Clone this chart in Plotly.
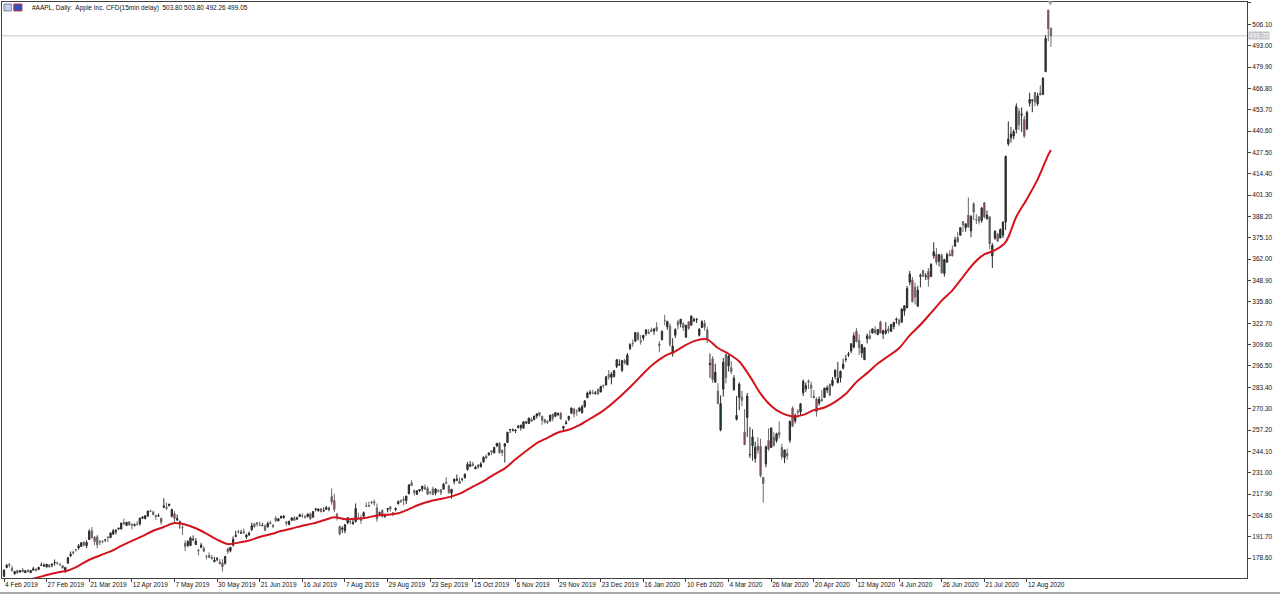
import pandas as pd
import plotly.graph_objects as go

# ---- daily OHLC (open, high, low, close), by month ----
ohlc_2019_02 = [(167.41,171.66,167.28,171.25),(172.86,175.08,172.35,174.18),(174.65,175.57,172.85,174.24),(172.40,173.94,170.34,170.94),(168.99,170.66,168.42,170.41),(171.05,171.21,169.25,169.43),(170.10,171.00,169.70,170.89),(171.39,172.48,169.92,170.18),(169.71,171.26,169.38,170.80),(171.25,171.70,169.75,170.42),(169.71,171.44,169.49,170.93),(171.19,173.32,170.99,172.03),(171.80,172.37,170.30,171.06),(171.58,173.00,171.38,172.97),(174.16,175.87,173.95,174.23),(173.71,175.30,173.17,174.33),(173.21,175.00,172.73,174.87),(174.32,174.91,172.92,173.15)]
ohlc_2019_03 = [(174.28,175.15,172.89,174.97),(175.69,177.75,173.97,175.85),(175.94,176.00,174.54,175.53),(174.67,175.49,173.94,174.52),(173.87,174.44,172.02,172.50),(170.32,173.07,169.50,172.91),(175.49,179.12,175.35,178.90),(180.00,182.67,179.37,180.91),(182.25,183.30,180.92,181.71),(183.90,184.10,182.56,183.73),(184.85,187.33,183.74,186.12),(185.80,188.39,185.79,188.02),(188.35,188.99,185.92,186.53),(186.23,189.49,184.73,188.16),(190.02,196.33,189.81,195.09),(195.34,197.69,190.78,191.05),(191.51,191.98,186.60,188.74),(191.66,192.88,184.58,186.79),(188.75,189.76,186.55,188.47),(188.95,189.56,187.53,188.72),(189.83,190.08,188.54,189.95)]
ohlc_2019_04 = [(191.64,191.68,188.38,191.24),(191.09,194.46,191.05,194.02),(193.25,196.50,193.15,195.35),(194.79,196.37,193.14,195.69),(196.45,197.10,195.93,197.00),(196.42,200.23,196.34,200.10),(200.32,202.85,199.23,199.50),(198.68,200.74,198.18,200.62),(200.85,201.00,198.44,198.95),(199.20,200.14,196.21,198.87),(198.58,199.85,198.01,199.23),(199.46,201.37,198.56,199.25),(199.54,203.38,198.61,203.13),(203.12,204.15,202.52,203.86),(202.83,204.94,202.34,204.53),(204.43,207.75,203.90,207.48),(207.36,208.48,207.05,207.16),(206.83,207.76,205.12,205.28),(204.90,205.00,202.12,204.30),(204.40,205.97,203.86,204.61),(203.06,203.40,199.11,200.67)]
ohlc_2019_05 = [(209.88,215.31,209.23,210.52),(209.84,212.65,208.13,209.15),(210.89,211.84,210.23,211.75),(204.29,208.84,203.50,208.48),(205.88,207.42,200.83,202.86),(201.90,205.34,201.75,202.90),(200.40,201.68,196.66,200.72),(197.42,198.85,192.77,197.18),(187.71,189.48,182.85,185.72),(186.41,189.70,185.41,188.66),(186.27,191.75,186.02,190.92),(189.91,192.47,188.84,190.08),(186.93,190.90,186.76,189.00),(183.52,184.35,180.28,183.09),(185.22,188.00,184.70,186.60),(184.66,185.71,182.55,182.78),(179.80,180.54,177.81,179.66),(180.20,182.14,178.62,178.97),(178.92,180.59,177.91,178.23),(176.42,179.35,176.00,177.38),(177.95,179.23,176.67,178.30),(176.23,177.99,174.99,175.07)]
ohlc_2019_06 = [(175.60,177.92,170.27,173.30),(175.44,179.83,174.52,179.64),(184.28,184.99,181.14,182.54),(183.08,185.47,182.15,185.22),(186.51,191.92,185.77,190.15),(191.81,195.37,191.62,192.58),(194.86,196.00,193.60,194.81),(193.95,195.97,193.39,194.19),(194.70,196.79,193.60,194.15),(191.55,193.59,190.30,192.74),(192.90,194.96,192.17,193.89),(196.05,200.29,195.21,198.45),(199.68,199.88,197.31,197.87),(200.37,200.61,198.03,199.46),(198.80,200.85,198.15,198.78),(198.54,200.16,198.17,198.58),(198.43,199.26,195.29,195.57),(197.77,200.99,197.35,199.80),(200.29,201.57,199.57,199.74),(198.68,199.49,197.05,197.92)]
ohlc_2019_07 = [(203.17,204.49,200.65,201.55),(201.41,203.13,201.36,202.73),(203.28,204.44,202.69,204.41),(203.35,205.08,202.90,204.23),(200.81,201.40,198.41,200.02),(199.20,201.51,198.81,201.24),(201.85,203.73,201.56,203.23),(203.31,204.39,201.71,201.75),(202.45,204.00,202.20,203.30),(204.09,205.87,204.00,205.21),(204.59,206.11,203.50,204.50),(204.05,205.09,203.27,203.35),(204.00,205.88,203.70,205.66),(205.79,206.50,202.36,202.59),(203.65,207.23,203.61,207.22),(208.46,208.91,207.29,208.84),(207.67,209.15,207.17,208.67),(208.89,209.24,206.73,207.02),(207.48,209.73,207.14,207.74),(208.46,210.64,208.44,209.68),(208.76,210.16,207.31,208.78),(216.42,221.37,211.30,213.04)]
ohlc_2019_08 = [(213.90,218.03,206.74,208.43),(205.53,206.43,201.63,204.02),(197.99,198.65,192.58,193.34),(196.31,198.07,194.04,197.00),(195.41,199.56,193.82,199.04),(200.20,203.53,199.39,203.43),(201.30,202.76,199.29,200.99),(199.62,202.05,199.15,200.48),(201.02,212.14,200.48,208.97),(203.16,206.44,202.59,202.75),(203.46,205.14,199.67,201.74),(204.28,207.16,203.84,206.50),(210.62,212.73,210.03,210.35),(210.88,213.35,210.32,210.36),(212.99,213.65,211.60,212.64),(213.19,214.44,210.75,212.46),(209.43,212.05,201.00,202.64),(205.86,207.19,205.06,206.49),(207.86,208.55,203.53,204.16),(204.10,205.72,203.32,205.53),(208.50,209.32,206.66,209.01),(210.16,210.45,207.20,208.74)]
ohlc_2019_09 = [(206.43,206.98,204.22,205.70),(208.39,209.48,207.32,209.19),(212.00,213.97,211.51,213.28),(214.05,214.42,212.51,213.26),(214.84,216.44,211.07,214.17),(213.86,216.78,211.71,216.70),(218.07,223.71,217.73,223.59),(224.80,226.42,222.86,223.09),(220.00,220.79,217.02,218.75),(217.73,220.13,217.56,219.90),(219.96,220.82,219.12,220.70),(221.06,222.85,219.44,222.77),(222.01,223.76,220.37,220.96),(221.38,222.56,217.47,217.73),(218.95,219.84,217.65,218.72),(221.03,222.49,217.19,217.68),(218.55,221.50,217.14,221.03),(220.00,220.94,218.83,219.89),(220.54,220.96,217.28,218.82),(220.90,224.58,220.79,223.97)]
ohlc_2019_10 = [(225.07,228.22,224.20,224.59),(223.06,223.58,217.93,218.96),(218.43,220.96,215.13,220.82),(225.64,227.49,223.89,227.01),(226.27,229.93,225.84,227.06),(225.82,228.06,224.33,224.40),(227.03,227.79,225.64,227.03),(227.93,230.44,227.30,230.09),(232.95,237.64,232.31,236.21),(234.90,238.13,234.67,235.87),(236.39,237.65,234.88,235.32),(233.37,235.24,233.20,234.37),(235.09,236.15,233.52,235.28),(234.59,237.58,234.29,236.41),(237.52,240.99,237.32,240.51),(241.16,242.20,239.62,239.96),(242.10,243.24,241.22,243.18),(244.51,244.80,241.81,243.58),(243.16,246.73,242.88,246.58),(247.42,249.25,246.72,249.05),(248.97,249.75,242.57,243.29),(244.76,245.30,241.21,243.26),(247.24,249.17,237.26,248.76)]
ohlc_2019_11 = [(249.54,255.93,249.16,255.82),(257.33,257.85,255.38,257.50),(257.05,258.19,256.32,257.13),(256.77,257.49,255.37,257.24),(258.74,260.35,258.11,259.43),(258.69,260.44,256.85,260.14),(258.30,262.47,258.28,262.20),(261.55,262.79,260.92,261.96),(261.13,264.78,261.07,264.47),(263.75,264.88,262.10,262.64),(263.68,265.78,263.01,265.76),(265.80,267.43,264.23,267.10),(267.90,268.00,265.39,266.29),(265.54,266.08,260.40,263.19),(263.69,264.01,261.18,262.01),(262.59,263.18,260.84,261.78),(262.71,266.44,262.52,266.37),(266.94,267.16,262.50,264.29),(265.58,267.98,265.31,267.84),(266.60,268.00,265.90,267.25)]
ohlc_2019_12 = [(267.27,268.25,263.45,264.16),(258.31,259.53,256.29,259.45),(261.07,263.31,260.68,261.74),(263.79,265.89,262.73,265.58),(267.48,271.00,267.30,270.71),(270.00,270.80,264.91,266.92),(268.60,270.07,265.86,268.48),(268.81,271.10,268.50,270.77),(267.78,272.56,267.32,271.46),(271.46,275.30,270.93,275.15),(277.00,280.79,276.98,279.86),(279.57,281.77,278.80,280.41),(279.80,281.90,279.12,279.74),(279.50,281.18,278.95,280.02),(282.23,282.65,278.56,279.44),(280.53,284.25,280.37,284.00),(284.69,284.89,282.92,284.27),(284.82,289.98,284.70,289.91),(291.12,293.97,288.12,289.80),(289.46,292.69,285.22,291.52),(289.93,293.68,289.52,293.65)]
ohlc_2020_01 = [(296.24,300.60,295.19,300.35),(297.15,300.58,296.50,297.43),(293.79,299.96,292.75,299.80),(299.84,300.90,297.48,298.39),(297.16,304.44,297.16,303.19),(307.24,310.43,306.20,309.63),(310.60,312.67,308.25,310.33),(311.64,317.07,311.15,316.96),(316.70,317.57,312.17,312.68),(311.85,315.50,309.55,311.34),(313.59,315.70,312.09,315.24),(316.27,318.74,315.00,318.73),(317.19,319.02,316.00,316.57),(318.58,319.99,317.31,317.70),(317.92,319.56,315.65,319.23),(320.25,323.33,317.52,318.31),(310.06,311.77,304.88,308.95),(312.60,318.40,312.19,317.69),(324.45,327.85,321.38,324.34),(320.54,324.09,318.75,323.87),(320.93,322.68,308.29,309.51)]
ohlc_2020_02 = [(304.30,313.49,302.22,308.66),(315.31,319.64,313.63,318.85),(323.52,324.76,318.95,321.45),(322.57,325.22,320.26,325.21),(322.37,323.40,318.00,320.03),(314.18,321.55,313.85,321.55),(323.60,323.90,318.71,319.61),(321.47,327.22,321.47,327.20),(324.19,326.22,323.35,324.87),(324.74,325.98,322.85,324.95),(315.36,319.75,314.61,319.00),(320.00,324.57,320.00,323.62),(322.63,324.65,318.21,320.30),(318.62,320.45,310.50,313.05),(297.26,304.18,289.23,298.18),(300.95,302.53,286.13,288.08),(286.53,297.88,286.50,292.65),(281.10,286.00,272.96,273.52),(257.26,278.41,256.37,273.36)]
ohlc_2020_03 = [(282.28,301.44,277.72,298.81),(303.67,304.00,285.80,289.32),(296.44,303.40,293.13,302.74),(295.52,299.55,291.41,292.92),(282.00,290.82,281.23,289.03),(263.75,278.09,263.00,266.17),(277.14,286.44,269.37,285.34),(277.39,281.22,271.86,275.43),(255.94,270.00,248.00,248.23),(264.89,279.92,252.95,277.97),(241.95,259.08,240.00,242.21),(247.51,257.61,238.40,252.86),(239.77,250.00,237.12,246.67),(247.39,252.84,242.61,244.78),(247.18,251.83,228.00,229.24),(228.08,228.50,212.61,224.37),(236.36,247.69,234.30,246.88),(250.75,258.25,244.30,245.52),(246.52,258.68,246.36,258.44),(252.75,255.87,247.05,247.74),(250.74,255.52,249.40,254.81),(255.60,262.49,252.00,254.29)]
ohlc_2020_04 = [(246.50,248.72,239.13,240.91),(240.34,245.15,236.90,244.93),(242.80,245.70,238.97,241.41),(250.90,263.11,249.38,262.47),(270.80,271.70,259.00,259.43),(262.74,267.37,261.23,266.07),(268.70,270.07,264.70,267.99),(268.31,273.70,265.83,273.25),(280.00,288.25,278.05,287.05),(282.40,286.33,280.63,284.43),(287.38,288.20,282.35,286.69),(284.69,286.95,276.86,282.80),(277.95,281.68,276.85,276.93),(276.28,277.25,265.43,268.37),(273.61,277.90,272.20,276.10),(275.87,281.75,274.87,275.03),(277.20,283.01,277.00,282.97),(281.80,284.54,279.95,283.17),(285.08,285.83,278.20,278.58),(284.73,289.67,283.89,287.73),(289.96,294.53,288.35,293.80)]
ohlc_2020_05 = [(286.25,299.00,285.85,289.07),(289.17,293.69,286.32,293.16),(295.06,301.00,294.46,297.56),(300.46,303.24,298.87,300.63),(303.22,305.17,301.97,303.74),(305.64,310.35,304.29,310.13),(308.10,317.05,307.24,315.01),(317.83,319.69,310.91,311.41),(312.15,315.95,303.21,307.65),(304.51,309.79,301.53,309.54),(300.35,307.90,300.21,307.71),(313.17,316.50,310.32,314.96),(315.03,318.52,313.01,313.14),(316.68,319.52,316.52,319.23),(318.66,320.89,315.87,316.85),(315.77,319.23,315.35,318.89),(323.50,324.24,316.50,316.73),(316.14,318.71,313.09,318.11),(316.77,323.44,315.63,318.25),(319.25,321.15,316.47,317.94)]
ohlc_2020_06 = [(317.75,322.35,317.21,321.85),(320.75,323.44,318.93,323.34),(324.66,326.20,322.30,325.12),(324.39,325.62,320.78,322.32),(323.35,331.75,323.23,331.50),(330.25,333.60,327.32,333.46),(332.14,345.61,332.58,343.99),(347.90,354.77,346.09,352.84),(349.31,351.06,335.48,335.90),(344.72,347.80,334.22,338.80),(333.25,345.68,332.58,342.99),(351.46,353.20,344.72,352.08),(355.15,355.40,351.09,351.59),(351.41,353.45,349.22,351.73),(354.64,356.56,345.15,349.72),(351.34,359.46,351.15,358.87),(364.00,372.38,362.27,366.53),(365.00,368.79,358.52,360.06),(360.70,365.00,357.57,364.84),(364.41,365.32,353.02,353.63),(353.25,362.17,351.28,361.78),(360.08,365.98,360.00,364.80)]
ohlc_2020_07 = [(365.12,367.36,363.91,364.11),(367.85,370.47,363.64,364.11),(370.00,375.78,369.87,373.85),(375.41,378.62,372.23,372.69),(376.72,381.50,376.36,381.37),(385.05,385.27,378.69,383.01),(381.34,383.92,378.82,383.68),(389.06,399.82,381.03,381.91),(379.36,389.02,375.51,388.23),(395.96,396.99,385.96,390.90),(386.25,389.62,383.62,386.09),(387.95,388.59,383.36,385.31),(385.67,394.00,384.25,393.43),(396.69,397.00,386.97,388.00),(386.77,391.90,386.41,389.09),(387.99,388.31,368.04,371.38),(363.95,371.88,356.58,370.46),(374.84,379.62,373.92,379.24),(377.47,378.20,372.99,373.01),(375.00,380.92,374.85,380.16),(376.75,385.19,375.07,384.76),(384.80,425.66,380.00,425.04)]
ohlc_2020_08 = [(432.80,446.55,431.57,435.75),(436.53,443.16,433.55,438.66),(437.51,441.57,435.59,440.25),(441.62,457.65,439.19,455.61),(452.82,454.70,441.17,444.45),(450.40,455.10,440.00,450.91),(447.88,449.93,436.43,437.50),(441.99,453.10,441.19,452.04),(457.72,464.17,455.71,460.04),(459.32,460.00,452.18,459.63),(464.25,464.35,455.85,458.43),(457.41,464.00,456.03,462.25),(463.93,468.65,462.44,462.83),(463.00,473.57,462.93,473.10),(477.05,499.47,477.00,497.48),(514.79,515.14,495.75,503.43),(503.80,503.80,492.26,499.05)]

# ---- moving average (red line), read every 4th bar plus the last bar ----
ma_values = [160.6,163.4,165.0,166.4,168.2,169.8,171.0,173.9,177.6,180.2,182.7,
             186.1,189.2,192.1,195.4,197.7,200.1,199.2,196.9,193.6,190.0,187.2,
             188.1,189.4,191.6,193.2,195.2,196.8,198.5,199.9,201.8,203.7,202.5,
             202.7,203.4,204.8,205.2,206.1,208.7,211.5,213.5,214.9,216.5,218.8,
             222.5,225.8,230.0,233.7,239.2,244.3,249.2,252.4,255.7,257.4,260.2,
             264.1,268.0,273.0,278.8,285.1,291.9,298.0,302.6,305.5,309.4,312.2,
             312.8,307.5,304.0,299.2,290.1,279.5,272.0,267.5,265.5,266.5,269.4,
             271.0,274.5,279.4,286.7,292.1,298.0,302.6,307.4,315.3,321.8,329.1,
             336.6,342.9,351.2,359.4,365.0,367.5,372.5,388.0,399.0,411.0,426.0,
             429.0]

market_holidays = ["2019-02-18","2019-04-19","2019-05-27","2019-07-04","2019-09-02","2019-11-28",
                   "2019-12-25","2020-01-01","2020-01-20","2020-02-17","2020-04-10","2020-05-25","2020-07-03"]
y_tick_values = [178.60,191.70,204.80,217.90,231.00,244.10,257.20,270.30,283.40,296.50,309.60,322.70,
                 335.80,348.90,362.00,375.10,388.20,401.30,414.40,427.50,440.60,453.70,466.80,479.90,
                 493.00,506.10,519.20]
last_price = 499.05
title_text = "#AAPL, Daily:  Apple Inc. CFD(15min delay)  503.80 503.80 492.26 499.05"

rows = (ohlc_2019_02 + ohlc_2019_03 + ohlc_2019_04 + ohlc_2019_05 + ohlc_2019_06 + ohlc_2019_07 +
        ohlc_2019_08 + ohlc_2019_09 + ohlc_2019_10 + ohlc_2019_11 + ohlc_2019_12 + ohlc_2020_01 +
        ohlc_2020_02 + ohlc_2020_03 + ohlc_2020_04 + ohlc_2020_05 + ohlc_2020_06 + ohlc_2020_07 + ohlc_2020_08)
opens = [r[0] for r in rows]
highs = [r[1] for r in rows]
lows = [r[2] for r in rows]
closes = [r[3] for r in rows]

dates = [d for d in pd.bdate_range("2019-02-04", "2020-08-25") if d.strftime("%Y-%m-%d") not in market_holidays]
n = len(rows)
idx = list(range(n))
ma_idx = list(range(0, n, 4)) + [n - 1]

tick_idx = list(range(0, n, 16))
tick_txt = [f"{dates[i].day} {dates[i].strftime('%b %Y')}" for i in tick_idx]

FONT = "Liberation Sans"
fig = go.Figure()
fig.add_trace(go.Candlestick(
    x=idx, open=opens, high=highs, low=lows, close=closes,
    increasing=dict(line=dict(color="#2a2a2a", width=1), fillcolor="#1b4d2a"),
    decreasing=dict(line=dict(color="#6a6a6a", width=1), fillcolor="#a3203a"),
    whiskerwidth=0, showlegend=False, hoverinfo="skip"))
fig.add_trace(go.Scatter(x=ma_idx, y=ma_values, mode="lines",
                         line=dict(color="#d3141c", width=2, shape="spline", smoothing=0.8),
                         showlegend=False, hoverinfo="skip"))

fig.add_shape(type="line", xref="paper", x0=0, x1=1, y0=last_price, y1=last_price,
              line=dict(color="#c8c8c8", width=1), layer="below")
fig.add_annotation(xref="paper", x=1, xanchor="left", xshift=1, y=last_price, yanchor="middle",
                   text=f"{last_price:.2f}", showarrow=False, bgcolor="#c4c4c4",
                   font=dict(family=FONT, size=6.5, color="white"), borderpad=0)
fig.add_annotation(xref="paper", yref="paper", x=0.0225, y=0.9896, xanchor="left", yanchor="middle",
                   text=title_text, showarrow=False, font=dict(family=FONT, size=6.5, color="#111"))
fig.add_annotation(x=n - 1, yref="paper", y=1.0, yanchor="middle", text="▼", showarrow=False,
                   font=dict(family="DejaVu Sans", size=6, color="#a0a0a0"))
fig.add_shape(type="rect", xref="paper", yref="paper", x0=0.0016, x1=0.0075, y0=0.9845, y1=0.9965,
              line=dict(color="#7080a0", width=1), fillcolor="#c8d0e8")
fig.add_shape(type="rect", xref="paper", yref="paper", x0=0.0095, x1=0.0160, y0=0.9845, y1=0.9965,
              line=dict(color="#c03030", width=1), fillcolor="#3050c0")
fig.add_shape(type="line", xref="paper", yref="paper", x0=-0.01, x1=1.03, y0=-0.026, y1=-0.026,
              line=dict(color="#a8a8a8", width=2))

fig.update_layout(
    width=1280, height=594, margin=dict(l=2, r=33, t=2, b=16),
    paper_bgcolor="white", plot_bgcolor="white",
    xaxis=dict(range=[-0.75, 466.6], showgrid=False, zeroline=False, rangeslider=dict(visible=False),
               showline=True, mirror=True, linecolor="#404040", linewidth=1,
               tickvals=tick_idx, ticktext=tick_txt, ticks="outside", ticklen=3, tickcolor="#404040",
               tickangle=0, ticklabelposition="outside right",
               tickfont=dict(family=FONT, size=6.5, color="#111")),
    yaxis=dict(range=[166.4, 519.8], side="right", showgrid=False, zeroline=False,
               showline=True, mirror=True, linecolor="#404040", linewidth=1,
               tickvals=y_tick_values, ticktext=[f"{v:.2f}" for v in y_tick_values],
               ticks="outside", ticklen=3, tickcolor="#404040",
               tickfont=dict(family=FONT, size=6.5, color="#111")),
)
fig.write_html("out.html")
